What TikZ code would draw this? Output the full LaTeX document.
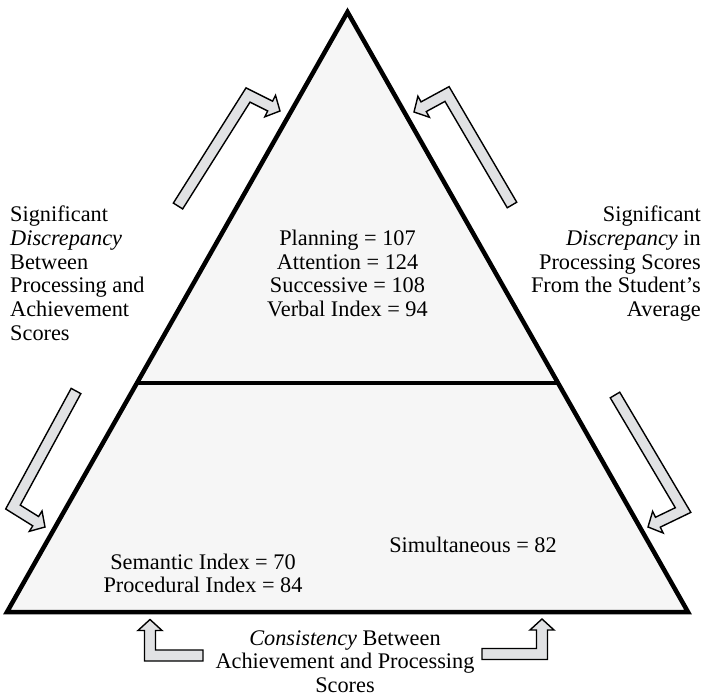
\documentclass[tikz,border=0pt]{standalone}
\usepackage{fontspec}
\setmainfont{Liberation Serif}
\usetikzlibrary{calc}
\definecolor{arrowgray}{HTML}{E1E2E4}
\definecolor{trifill}{HTML}{F6F6F6}
\def\sw{5.5pt}\def\hw{12pt}\def\hl{11pt}
\tikzset{
  barrow/.style={fill=arrowgray, draw=black, line width=1.4pt, line join=miter},
  tri/.style={fill=trifill, draw=black, line width=4.5pt, line join=miter},
  txt/.style={font=\fontsize{22.3}{23.6}\selectfont, inner sep=0pt, anchor=base},
  txtl/.style={txt, anchor=base west},
  txtr/.style={txt, anchor=base east}
}
\newcommand\bentarrow[4]{%
  \coordinate (#1A) at (#2);
  \coordinate (#1B) at (#3);
  \coordinate (#1C) at (#4);
  \coordinate (#1D) at ($(#1C)!\hl!(#1B)$);
  \coordinate (#1a1) at ($(#1A)!\sw!90:(#1B)$);
  \coordinate (#1a2) at ($(#1B)!\sw!-90:(#1A)$);
  \coordinate (#1c1) at ($(#1B)!\sw!90:(#1C)$);
  \coordinate (#1c2) at ($(#1D)!\sw!-90:(#1B)$);
  \coordinate (#1p) at (intersection of #1a1--#1a2 and #1c1--#1c2);
  \coordinate (#1a3) at ($(#1A)!\sw!-90:(#1B)$);
  \coordinate (#1a4) at ($(#1B)!\sw!90:(#1A)$);
  \coordinate (#1c3) at ($(#1B)!\sw!-90:(#1C)$);
  \coordinate (#1c4) at ($(#1D)!\sw!90:(#1B)$);
  \coordinate (#1m) at (intersection of #1a3--#1a4 and #1c3--#1c4);
  \coordinate (#1h1) at ($(#1D)!\hw!-90:(#1B)$);
  \coordinate (#1h2) at ($(#1D)!\hw!90:(#1B)$);
  \draw[barrow] (#1a1) -- (#1p) -- (#1c2) -- (#1h1) -- (#1C) -- (#1h2) -- (#1c4) -- (#1m) -- (#1a3) -- cycle;
}
\begin{document}
\begin{tikzpicture}[x=1pt, y=-1pt]
\useasboundingbox (0,0) rectangle (710,698);
% pyramid
\coordinate (apex) at (347.5,12);
\coordinate (bl) at (7,612);
\coordinate (br) at (688,612);
\coordinate (dl) at (137.3,383);
\coordinate (dr) at (557.7,383);
\draw[tri] (apex) -- (br) -- (bl) -- cycle;
\draw[line width=4pt] (dl) -- (dr);
% arrows
\bentarrow{ul}{178,206}{248,95}{280,111}
\bentarrow{ur}{512,205}{447,94}{414,112}
\bentarrow{ll}{76,391}{13,507}{45,527}
\bentarrow{lr}{615,395}{683,510}{648,527}
\bentarrow{bl}{203,655.5}{150,655.5}{150,619.5}
\bentarrow{br}{482,654}{542,654}{542,619}
% left text
\node[txtl] (l1) at (10,222) {Significant};
\node[txtl] (l2) at (10,245.6) {\textit{Discrepancy}};
\node[txtl] (l3) at (10,269.2) {Between};
\node[txtl] (l4) at (10,292.8) {Processing and};
\node[txtl] (l5) at (10,316.4) {Achievement};
\node[txtl] (l6) at (10,340) {Scores};
% right text
\node[txtr] (r1) at (701,222) {Significant};
\node[txtr] (r2) at (701,245.6) {\textit{Discrepancy} in};
\node[txtr] (r3) at (701,269.2) {Processing Scores};
\node[txtr] (r4) at (701,292.8) {From the Student’s};
\node[txtr] (r5) at (701,316.4) {Average};
% top inner
\node[txt] (t1) at (347.5,245.6) {Planning = 107};
\node[txt] (t2) at (347.5,269.2) {Attention = 124};
\node[txt] (t3) at (347.5,292.8) {Successive = 108};
\node[txt] (t4) at (347.5,316.4) {Verbal Index = 94};
% lower inner
\node[txt] (s1) at (203,569) {Semantic Index = 70};
\node[txt] (s2) at (203,592.6) {Procedural Index = 84};
\node[txt] (s3) at (473,552) {Simultaneous = 82};
% bottom
\node[txt] (b1) at (345,645) {\textit{Consistency} Between};
\node[txt] (b2) at (345,668.6) {Achievement and Processing};
\node[txt] (b3) at (345,692.2) {Scores};
\end{tikzpicture}
\end{document}
